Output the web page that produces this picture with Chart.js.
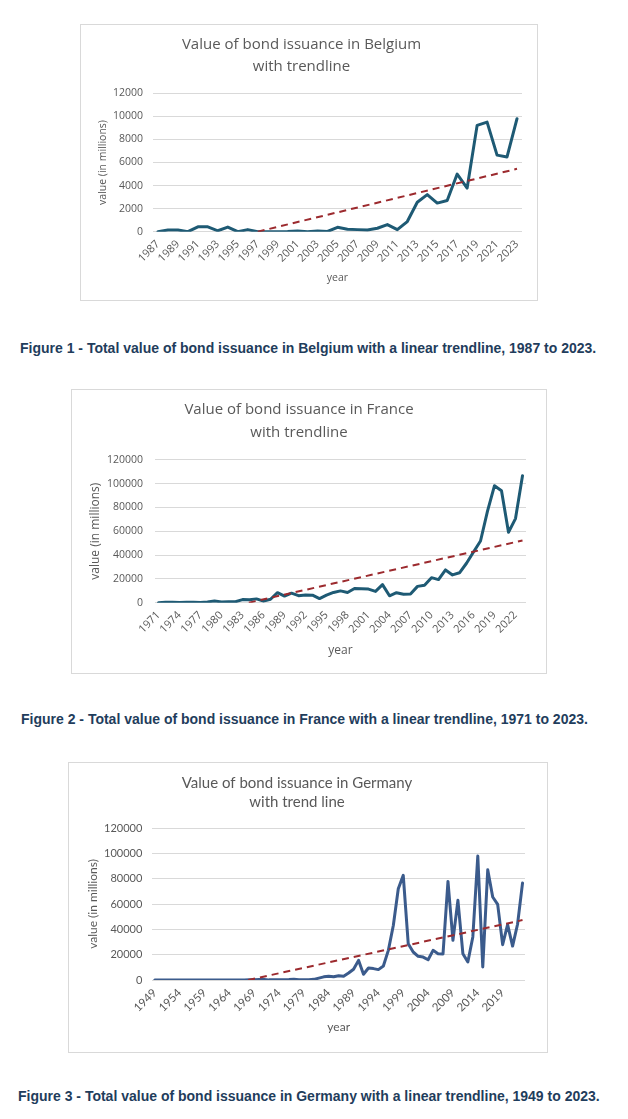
<!DOCTYPE html>
<html><head><meta charset="utf-8">
<script src="https://cdn.jsdelivr.net/npm/chart.js@4.4.1/dist/chart.umd.min.js"></script>
<style>
html,body{margin:0;padding:0;background:#fff;width:628px;height:1119px;overflow:hidden;position:relative}
.box{position:absolute;border:1px solid #d9d9d9;background:#fff}
.box canvas{display:block}
.cap{position:absolute;font:bold 14px "Liberation Sans",Arial,sans-serif;color:#1f3d5c;white-space:nowrap;line-height:16px}
</style></head><body>
<div class="box" style="left:80px;top:24px"><canvas id="c1" width="456" height="275"></canvas></div>
<div class="cap" style="left:20px;top:340px">Figure 1 - Total value of bond issuance in Belgium with a linear trendline, 1987 to 2023.</div>
<div class="box" style="left:71px;top:389px"><canvas id="c2" width="474" height="283"></canvas></div>
<div class="cap" style="left:21px;top:711px">Figure 2 - Total value of bond issuance in France with a linear trendline, 1971 to 2023.</div>
<div class="box" style="left:68px;top:762px"><canvas id="c3" width="478" height="289"></canvas></div>
<div class="cap" style="left:18px;top:1088px">Figure 3 - Total value of bond issuance in Germany with a linear trendline, 1949 to 2023.</div>
<script>
// ---- Belgium ----
const belgiumYears = [1987,1988,1989,1990,1991,1992,1993,1994,1995,1996,1997,1998,1999,2000,2001,2002,2003,2004,2005,2006,2007,2008,2009,2010,2011,2012,2013,2014,2015,2016,2017,2018,2019,2020,2021,2022,2023];
const belgiumValues = [0,150,150,0,420,420,80,400,0,180,0,0,0,20,60,0,60,20,380,220,180,150,300,620,180,880,2550,3220,2480,2700,5000,3780,9220,9500,6640,6480,9800];
const belgiumTrendYears = [1997,2023];
const belgiumTrendValues = [0,5450];
const belgiumTickYears = [1987,1989,1991,1993,1995,1997,1999,2001,2003,2005,2007,2009,2011,2013,2015,2017,2019,2021,2023];
const belgiumYTicks = [0,2000,4000,6000,8000,10000,12000];

// ---- France ----
const franceYears = [1971,1972,1973,1974,1975,1976,1977,1978,1979,1980,1981,1982,1983,1984,1985,1986,1987,1988,1989,1990,1991,1992,1993,1994,1995,1996,1997,1998,1999,2000,2001,2002,2003,2004,2005,2006,2007,2008,2009,2010,2011,2012,2013,2014,2015,2016,2017,2018,2019,2020,2021,2022,2023];
const franceValues = [0,300,300,100,300,400,200,600,1500,600,900,800,2600,2400,3200,1300,2900,8400,5600,8000,5900,6400,6300,3500,6300,8600,9900,8600,11900,11700,11400,9500,15200,5800,8400,7100,7300,13700,14700,21000,19400,27500,23300,25100,33100,42500,51800,76800,98200,94000,59100,70600,106600];
const franceTrendYears = [1983.9,2023];
const franceTrendValues = [0,52200];
const franceTickYears = [1971,1974,1977,1980,1983,1986,1989,1992,1995,1998,2001,2004,2007,2010,2013,2016,2019,2022];
const franceYTicks = [0,20000,40000,60000,80000,100000,120000];

// ---- Germany ----
const germanyYears = [1949,1950,1951,1952,1953,1954,1955,1956,1957,1958,1959,1960,1961,1962,1963,1964,1965,1966,1967,1968,1969,1970,1971,1972,1973,1974,1975,1976,1977,1978,1979,1980,1981,1982,1983,1984,1985,1986,1987,1988,1989,1990,1991,1992,1993,1994,1995,1996,1997,1998,1999,2000,2001,2002,2003,2004,2005,2006,2007,2008,2009,2010,2011,2012,2013,2014,2015,2016,2017,2018,2019,2020,2021,2022,2023];
const germanyValues = [0,0,0,0,0,0,0,0,0,0,0,0,0,0,0,0,0,0,0,100,200,400,300,100,100,100,200,300,500,200,100,200,500,1500,2500,3000,2600,3400,3000,5500,8500,15500,4500,9500,9000,8200,11000,23400,43000,72000,82600,28700,22100,18700,18100,16000,23400,20800,20600,77800,31300,62900,20800,14200,34000,97800,10300,87000,65500,59700,27900,43700,26800,44000,76500];
const germanyTrendYears = [1967.8,2023];
const germanyTrendValues = [0,47300];
const germanyTickYears = [1949,1954,1959,1964,1969,1974,1979,1984,1989,1994,1999,2004,2009,2014,2019];
const germanyYTicks = [0,20000,40000,60000,80000,100000,120000];

const GREY = '#595959';

function build(id, o) {
  const pts = o.years.map((y, i) => ({x: y, y: o.values[i]}));
  const trend = o.trendYears.map((y, i) => ({x: y, y: o.trendValues[i]}));
  new Chart(document.getElementById(id), {
    type: 'line',
    data: {datasets: [
      {data: trend, borderColor: '#9c2a2e', borderWidth: 2, borderDash: [7, 5], pointRadius: 0, fill: false, tension: 0},
      {data: pts, borderColor: o.color, borderWidth: 3, pointRadius: 0, tension: 0, fill: false, borderJoinStyle: 'round', borderCapStyle: 'round'}
    ]},
    options: {
      responsive: false, animation: false, events: [],
      layout: {padding: {left: 0, top: 0, right: o.padR, bottom: 0}},
      plugins: {
        legend: {display: false}, tooltip: {enabled: false},
        title: {display: true, text: o.title, color: GREY,
          font: {family: o.font, size: o.titleSize, weight: 'normal', lineHeight: o.titleLH},
          padding: {top: o.titlePT, bottom: o.titlePB}}
      },
      scales: {
        x: {
          type: 'linear', bounds: 'data',
          min: o.years[0] - 0.5, max: o.years[o.years.length - 1] + 0.5,
          grid: {display: false, drawTicks: false}, border: {display: false},
          afterBuildTicks: (ax) => { ax.ticks = o.tickYears.map(v => ({value: v})); },
          afterFit: (ax) => { ax.height = o.xH; },
          ticks: {autoSkip: false, minRotation: 45, maxRotation: 45, padding: o.xPad, color: GREY,
            font: {family: o.font, size: o.xTickSize}, callback: (v) => String(v)},
          title: {display: true, text: 'year', color: GREY, font: {family: o.font, size: o.axisSize},
            padding: {top: 0, bottom: o.xTitlePB}}
        },
        y: {
          min: 0, max: o.yTicks[o.yTicks.length - 1],
          grid: {color: '#d9d9d9', lineWidth: 1, drawTicks: false}, border: {display: false},
          afterBuildTicks: (ax) => { ax.ticks = o.yTicks.map(v => ({value: v})); },
          afterFit: (ax) => { ax.width = o.yW; },
          ticks: {padding: o.yPad, color: GREY, font: {family: o.font, size: o.tickSize}, callback: (v) => String(v)},
          title: {display: true, text: 'value (in millions)', color: GREY, font: {family: o.font, size: o.axisSize},
            padding: {top: o.yTitlePT, bottom: 0}}
        }
      }
    }
  });
}

build('c1', {
  years: belgiumYears, values: belgiumValues, trendYears: belgiumTrendYears, trendValues: belgiumTrendValues,
  tickYears: belgiumTickYears, yTicks: belgiumYTicks, color: '#1e5a74',
  title: ['Value of bond issuance in Belgium', 'with trendline'], font: 'Open Sans',
  titleSize: 15, titleLH: '22px', titlePT: 9, titlePB: 15.3,
  padR: 15, yW: 72, xH: 68.3, xPad: 6, yPad: 10, tickSize: 10.5, xTickSize: 11, axisSize: 10.5, xTitlePB: 15.7, yTitlePT: 15.7
});
build('c2', {
  years: franceYears, values: franceValues, trendYears: franceTrendYears, trendValues: franceTrendValues,
  tickYears: franceTickYears, yTicks: franceYTicks, color: '#1e5a74',
  title: ['Value of bond issuance in France', 'with trendline'], font: 'Open Sans',
  titleSize: 15, titleLH: '22.7px', titlePT: 8.65, titlePB: 15.65,
  padR: 20, yW: 83, xH: 70.3, xPad: 6, yPad: 12, tickSize: 10.5, xTickSize: 11, axisSize: 12, xTitlePB: 15.1, yTitlePT: 16.8
});
build('c3', {
  years: germanyYears, values: germanyValues, trendYears: germanyTrendYears, trendValues: germanyTrendValues,
  tickYears: germanyTickYears, yTicks: germanyYTicks, color: '#3b5b8c',
  title: ['Value of bond issuance in Germany', 'with trend line'], font: 'Lato',
  titleSize: 15, titleLH: '19px', titlePT: 10.2, titlePB: 16.8,
  padR: 22, yW: 83.3, xH: 72, xPad: 6, yPad: 10, tickSize: 11, xTickSize: 11.5, axisSize: 12, xTitlePB: 18.1, yTitlePT: 17.1
});
</script>
</body></html>
